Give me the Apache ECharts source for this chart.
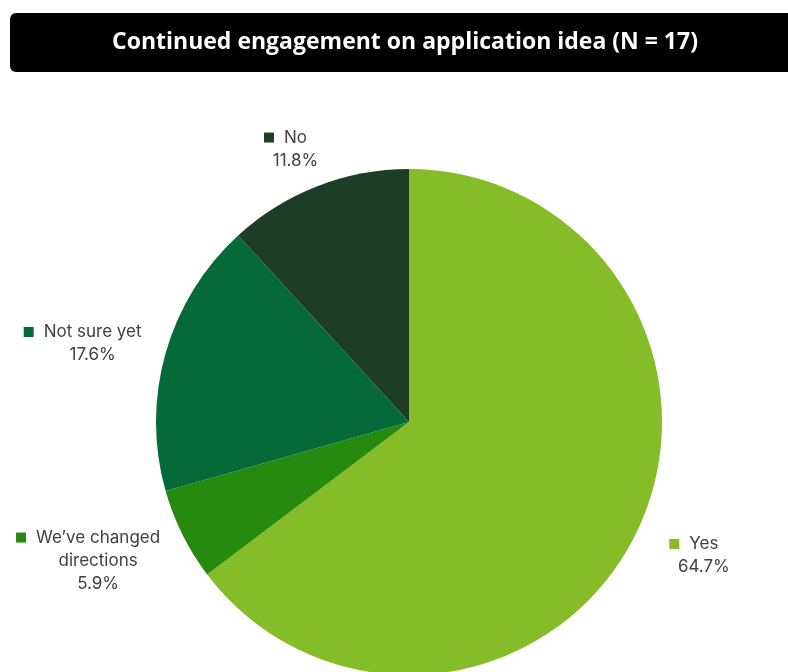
<!DOCTYPE html>
<html>
<head>
<meta charset="utf-8">
<script src="https://cdn.jsdelivr.net/npm/echarts@6/dist/echarts.min.js"></script>
<style>
  html, body { margin: 0; padding: 0; background: #ffffff; }
  #chart { width: 788px; height: 672px; }
</style>
</head>
<body>
<div id="chart"></div>
<script>
// Responses, in clockwise order starting at 12 o'clock
const categories = ['Yes', 'We\u2019ve changed directions', 'Not sure yet', 'No'];
const shares = [64.7, 5.9, 17.6, 11.8];           // percent of respondents
const sliceColors = ['#86BC28', '#268A0E', '#046A38', '#1E3D27'];
const titleText = 'Continued engagement on application idea (N = 17)';

const CX = 409, CY = 422, R = 253;
const GAP_X = 25, GAP_Y = 22;   // clearance between pie edge and label box

const total = shares.reduce((a, b) => a + b, 0);
function midAngle(i) {
  let before = 0;
  for (let k = 0; k < i; k++) before += shares[k];
  return ((before + shares[i] / 2) / total) * Math.PI * 2;
}

function wrapName(name) {
  if (name.length <= 15) return [name];
  const cut = name.lastIndexOf(' ');
  return [name.slice(0, cut), name.slice(cut + 1)];
}

const chart = echarts.init(document.getElementById('chart'), null, { renderer: 'canvas' });

// Label text: the colour key sits left of the first line; every line is
// indented by the key's width so the text lines share one centre.
const rich = {
  t: { fontFamily: 'Inter, "Open Sans", sans-serif', fontSize: 17, color: '#404040', lineHeight: 23 },
  g: { width: 10 },
  pad: { width: 20 }
};
sliceColors.forEach((c, i) => {
  rich['sq' + i] = { width: 10, height: 10, backgroundColor: c };
});

chart.setOption({
  animation: false,
  backgroundColor: '#ffffff',
  graphic: [
    {
      type: 'rect',
      shape: { x: 10, y: 13, width: 800, height: 59, r: 6 },
      style: { fill: '#000000' },
      z: 1
    },
    {
      type: 'text',
      x: 405, y: 42,
      style: {
        text: titleText,
        fill: '#ffffff',
        font: 'bold 23px "Open Sans", sans-serif',
        textAlign: 'center',
        textVerticalAlign: 'middle'
      },
      z: 2
    }
  ],
  series: [{
    type: 'pie',
    center: [CX, CY],
    radius: [0, R],
    startAngle: 90,
    clockwise: true,
    avoidLabelOverlap: false,
    data: categories.map((name, i) => ({
      name: name,
      value: shares[i],
      itemStyle: { color: sliceColors[i] }
    })),
    label: {
      show: true,
      position: 'outside',
      formatter: (p) => {
        const lines = wrapName(p.name);
        let s = '{sq' + p.dataIndex + '|}{g|}{t|' + lines[0] + '}';
        for (let k = 1; k < lines.length; k++) s += '\n{pad|}{t|' + lines[k] + '}';
        s += '\n{pad|}{t|' + p.value.toFixed(1) + '%}';
        return s;
      },
      rich: rich
    },
    labelLine: { show: false },
    emphasis: { disabled: true },
    labelLayout: (params) => {
      const a = midAngle(params.dataIndex);
      const dx = Math.sin(a), dy = -Math.cos(a);
      const w = params.labelRect.width, h = params.labelRect.height;
      return {
        x: CX + (R + GAP_X) * dx + Math.sign(dx) * w / 2,
        y: CY + (R + GAP_Y) * dy + dy * h / 2 + 2,
        align: 'center',
        verticalAlign: 'middle'
      };
    }
  }]
});
</script>
</body>
</html>
